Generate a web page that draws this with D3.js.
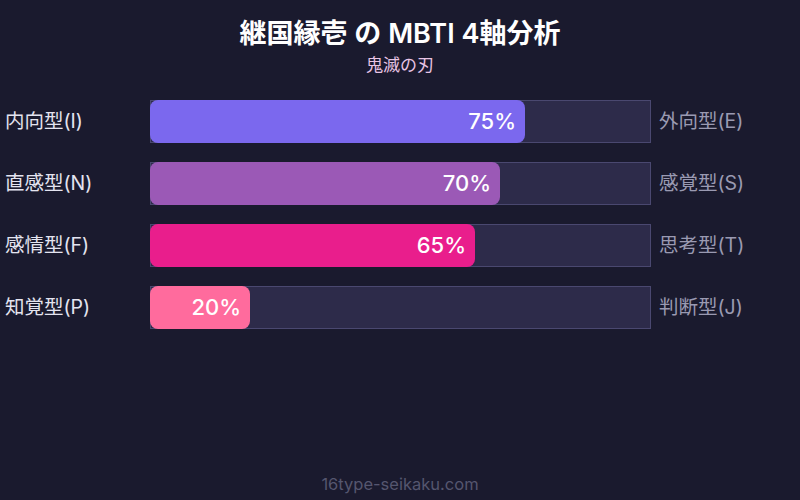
<!DOCTYPE html>
<html>
<head>
<meta charset="utf-8">
<script src="https://d3js.org/d3.v7.min.js"></script>
<style>
  body { margin: 0; background: #1a1a2e; }
  svg text { font-family: Inter, "Noto Sans CJK JP", sans-serif; }
</style>
</head>
<body>
<div id="chart"></div>
<script>
// data
var leftLabels  = ["内向型(I)", "直感型(N)", "感情型(F)", "知覚型(P)"];
var rightLabels = ["外向型(E)", "感覚型(S)", "思考型(T)", "判断型(J)"];
var values      = [75, 70, 65, 20];
var barColors   = ["#7b68ee", "#9b59b6", "#e91e8c", "#ff6b9d"];

var W = 800, H = 500;

var svg = d3.select("#chart").append("svg")
    .attr("width", W)
    .attr("height", H);

svg.append("rect")
    .attr("width", W).attr("height", H)
    .attr("fill", "#1a1a2e");

// titles
svg.append("text")
    .attr("x", W / 2).attr("y", 43)
    .attr("text-anchor", "middle")
    .attr("fill", "#ffffff")
    .style("font-size", "27px")
    .style("font-weight", "600")
    .text("継国縁壱 の MBTI 4軸分析");

svg.append("text")
    .attr("x", W / 2).attr("y", 71)
    .attr("text-anchor", "middle")
    .attr("fill", "#e8c4e4")
    .style("font-size", "17px")
    .text("鬼滅の刃");

var x = d3.scaleLinear().domain([0, 100]).range([150, 650]);

var y = d3.scaleBand()
    .domain(d3.range(values.length))
    .range([100, 328])
    .paddingInner(20 / 62)
    .paddingOuter(0);

var rows = svg.selectAll("g.row")
    .data(values)
    .enter().append("g")
    .attr("class", "row");

// track
rows.append("rect")
    .attr("x", x(0) + 0.5)
    .attr("y", function(d, i) { return y(i) + 0.5; })
    .attr("width", x(100) - x(0))
    .attr("height", y.bandwidth())
    .attr("fill", "#2d2b4a")
    .attr("stroke", "#4a4870")
    .attr("stroke-width", 1);

// bar
rows.append("rect")
    .attr("x", x(0))
    .attr("y", function(d, i) { return y(i); })
    .attr("width", function(d) { return x(d) - x(0); })
    .attr("height", y.bandwidth() + 1)
    .attr("rx", 8).attr("ry", 8)
    .attr("fill", function(d, i) { return barColors[i]; });

// value label
rows.append("text")
    .attr("x", function(d) { return x(d) - 9; })
    .attr("y", function(d, i) { return y(i) + y.bandwidth() / 2; })
    .attr("dy", "0.35em")
    .attr("text-anchor", "end")
    .attr("fill", "#ffffff")
    .style("font-size", "22px")
    .style("font-weight", "500")
    .text(function(d) { return d + "%"; });

// left labels
rows.append("text")
    .attr("x", 5)
    .attr("y", function(d, i) { return y(i) + y.bandwidth() / 2; })
    .attr("dy", "0.35em")
    .attr("fill", "#e4e4f0")
    .style("font-size", "19.5px")
    .text(function(d, i) { return leftLabels[i]; });

// right labels
rows.append("text")
    .attr("x", 659)
    .attr("y", function(d, i) { return y(i) + y.bandwidth() / 2; })
    .attr("dy", "0.35em")
    .attr("fill", "#9a9ab2")
    .style("font-size", "19.5px")
    .text(function(d, i) { return rightLabels[i]; });

// footer
svg.append("text")
    .attr("x", W / 2).attr("y", 490)
    .attr("text-anchor", "middle")
    .attr("fill", "#55566f")
    .style("font-size", "16.5px")
    .text("16type-seikaku.com");
</script>
</body>
</html>
